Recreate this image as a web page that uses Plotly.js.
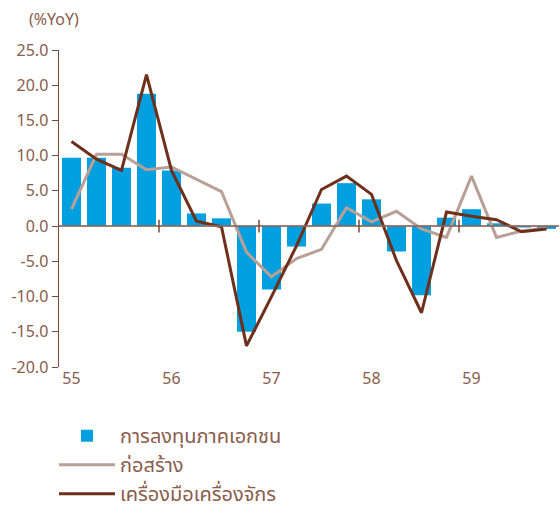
<!DOCTYPE html>
<html>
<head>
<meta charset="utf-8">
<script src="https://cdn.plot.ly/plotly-3.0.1.min.js"></script>
<style>
  html, body { margin: 0; padding: 0; background: #fff; }
  #chart { width: 560px; height: 515px; }
</style>
</head>
<body>
<div id="chart"></div>
<script>
// quarters 55Q1 .. 59Q4
var quarters = [];
var years = ['55', '56', '57', '58', '59'];
years.forEach(function (y) {
  for (var q = 1; q <= 4; q++) quarters.push(y + 'Q' + q);
});

var privateInv = [9.7, 9.7, 8.3, 18.8, 7.9, 1.8, 1.1, -15.0, -9.0, -2.9,
                  3.2, 6.1, 3.8, -3.6, -9.8, 1.2, 2.4, 0.4, -0.2, -0.4];
var construction = [2.4, 10.2, 10.2, 8.0, 8.4, 6.6, 4.9, -3.7, -7.2, -4.6,
                    -3.3, 2.6, 0.6, 2.1, -0.4, -1.6, 7.1, -1.6, -0.7, -0.3];
var machinery = [12.0, 9.5, 7.9, 21.5, 7.9, 0.7, -0.1, -17.0, -10.0, -2.8,
                 5.2, 7.1, 4.5, -4.9, -12.3, 2.0, 1.4, 0.9, -0.8, -0.4];

var yTicks = [25, 20, 15, 10, 5, 0, -5, -10, -15, -20];
var yTickText = ['25.0', '20.0', '15.0', '10.0', '5.0', '0.0', '-5.0', '-10.0', '-15.0', '-20.0'];

var names = ['การลงทุนภาคเอกชน', 'ก่อสร้าง', 'เครื่องมือเครื่องจักร'];

var brown = '#8a5c4c';
var fontFam = '"Noto Sans", "Noto Sans Thai", "DejaVu Sans", sans-serif';

var data = [
  {x: quarters, y: privateInv, type: 'bar', name: names[0],
   marker: {color: '#009fdf'}, legendgroup: 'a'},
  {x: quarters, y: construction, type: 'scatter', mode: 'lines', name: names[1],
   line: {color: '#b9a097', width: 3}, legendgroup: 'b'},
  {x: quarters, y: machinery, type: 'scatter', mode: 'lines', name: names[2],
   line: {color: '#6e2f1b', width: 3}, legendgroup: 'c'}
];

// zero line and year boundary ticks sitting on it
var shapes = [{type: 'line', xref: 'paper', x0: 0, x1: 1, yref: 'y', y0: 0, y1: 0,
               line: {color: 'rgba(140,105,95,0.85)', width: 2}, layer: 'above'}];
for (var i = 4; i < quarters.length; i += 4) {
  shapes.push({type: 'line', xref: 'x', x0: i - 0.5, x1: i - 0.5, yref: 'y', y0: -0.9, y1: 0.9,
               line: {color: '#7b4a3a', width: 1.5}, layer: 'above'});
}

var layout = {
  width: 560, height: 515,
  margin: {l: 59, r: 1, t: 50, b: 148, autoexpand: false},
  paper_bgcolor: '#fff', plot_bgcolor: '#fff',
  font: {family: fontFam, color: brown, size: 16},
  bargap: 0.24,
  showlegend: true,
  legend: {x: -0.01, xanchor: 'left', y: -0.155, yanchor: 'top', orientation: 'v',
           traceorder: 'normal', tracegroupgap: 19, itemwidth: 56,
           font: {size: 20, color: brown}},
  xaxis: {
    type: 'category', range: [-0.5, quarters.length - 0.5],
    tickvals: quarters.filter(function (q, i) { return i % 4 === 0; }),
    ticktext: years,
    showline: false, ticks: '', showgrid: false, zeroline: false,
    tickfont: {size: 16, color: brown}
  },
  yaxis: {
    range: [-20, 25], tickvals: yTicks, ticktext: yTickText,
    showline: true, linecolor: '#7b4a3a', linewidth: 1.5,
    ticks: 'outside', ticklen: 6, tickcolor: '#7b4a3a',
    showgrid: false, zeroline: false,
    tickfont: {size: 16, color: brown}
  },
  shapes: shapes,
  annotations: [{text: '(%YoY)', xref: 'paper', yref: 'paper', x: -0.065, y: 1.0,
                 xanchor: 'left', yanchor: 'bottom', yshift: 18, showarrow: false,
                 font: {size: 16, color: brown}}]
};

Plotly.newPlot('chart', data, layout, {displayModeBar: false, staticPlot: true});
</script>
</body>
</html>
